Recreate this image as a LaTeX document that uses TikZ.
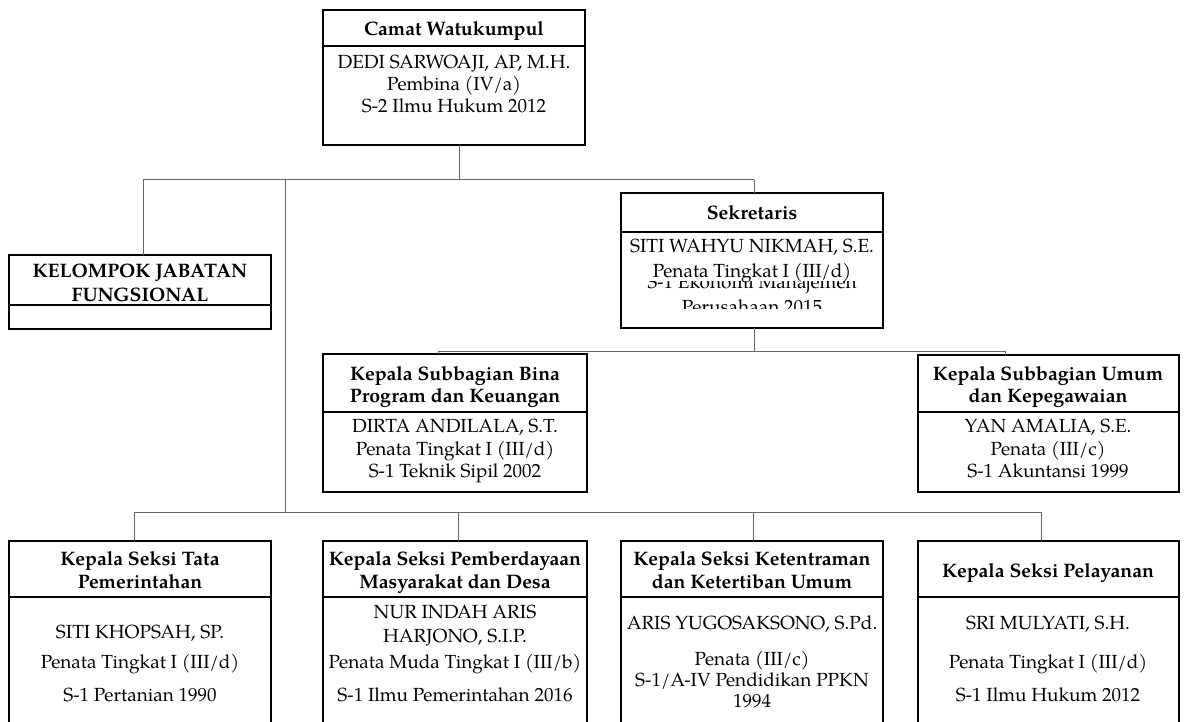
\documentclass[tikz,border=0pt]{standalone}
\usepackage{fontspec}
\setmainfont{TeX Gyre Pagella}
\begin{document}
\begin{tikzpicture}[x=1pt,y=-1pt,
 box/.style={draw, line width=1.6pt, inner sep=0pt, outer sep=0pt, anchor=north west},
 txt/.style={anchor=base, inner sep=0pt, font=\fontsize{19}{22}\selectfont},
 ttl/.style={anchor=base, inner sep=0pt, font=\fontsize{19.5}{22}\selectfont\bfseries},
 conn/.style={draw=black!60, line width=1pt},
 div/.style={line width=1.6pt}]
\clip (0,0) rectangle (1186,722);
\fill[white] (0,0) rectangle (1186,722);

% boxes
\node[box, minimum width=262pt, minimum height=135pt] (camat) at (323,10) {};
\node[box, minimum width=262pt, minimum height=74pt] (kel) at (9,255) {};
\node[box, minimum width=262pt, minimum height=135pt] (sek) at (621,193) {};
\node[box, minimum width=264pt, minimum height=138pt] (bina) at (323,354) {};
\node[box, minimum width=261pt, minimum height=137pt] (umum) at (918,355) {};
\node[box, minimum width=262pt, minimum height=220pt] (s1) at (9,541) {};
\node[box, minimum width=264pt, minimum height=220pt] (s2) at (323,541) {};
\node[box, minimum width=262pt, minimum height=220pt] (s3) at (621,541) {};
\node[box, minimum width=261pt, minimum height=220pt] (s4) at (918,541) {};

% dividers
\draw[div] (camat.west |- 0,46) -- (camat.east |- 0,46);
\draw[div] (kel.west |- 0,305) -- (kel.east |- 0,305);
\draw[div] (sek.west |- 0,232) -- (sek.east |- 0,232);
\draw[div] (bina.west |- 0,412) -- (bina.east |- 0,412);
\draw[div] (umum.west |- 0,412) -- (umum.east |- 0,412);
\foreach \b in {s1,s2,s3,s4} {\draw[div] (\b.west |- 0,597) -- (\b.east |- 0,597);}

% connectors
\coordinate (c1) at (459,180);
\coordinate (tl) at (143,180);
\coordinate (tr) at (754,180);
\coordinate (sv) at (285,180);
\coordinate (ms) at (754,351);
\coordinate (ml) at (438,351);
\coordinate (mr) at (1005,351);
\coordinate (b1) at (134,512);
\coordinate (b2) at (458,512);
\coordinate (b3) at (753,512);
\coordinate (b4) at (1041,512);
\draw[conn] (c1 |- camat.south) -- (c1);
\draw[conn] (tl) -- (tr);
\draw[conn] (tl) -- (tl |- kel.north);
\draw[conn] (tr) -- (tr |- sek.north);
\draw[conn] (sv) -- (sv |- b1);
\draw[conn] (ms |- sek.south) -- (ms);
\draw[conn] (ml) -- (mr);
\draw[conn] (ml) -- (ml |- bina.north);
\draw[conn] (mr) -- (mr |- umum.north);
\draw[conn] (b1) -- (b4);
\draw[conn] (b1) -- (b1 |- s1.north);
\draw[conn] (b2) -- (b2 |- s2.north);
\draw[conn] (b3) -- (b3 |- s3.north);
\draw[conn] (b4) -- (b4 |- s4.north);

% camat
\node[ttl] (camatT) at (454,36) {Camat Watukumpul};
\node[txt] (camatA) at (454,69) {DEDI SARWOAJI, AP, M.H.};
\node[txt] (camatB) at (454,91) {Pembina (IV/a)};
\node[txt] (camatC) at (454,113) {S-2 Ilmu Hukum 2012};

% kelompok
\node[ttl] (kelA) at (140,277) {KELOMPOK JABATAN};
\node[ttl] (kelB) at (140,301) {FUNGSIONAL};

% sekretaris
\node[ttl] (sekT) at (752,219) {Sekretaris};
\node[txt] (sekA) at (752,252) {SITI WAHYU NIKMAH, S.E.};
\begin{scope}
\clip (621,281) rectangle (883,308);
\node[txt] (sekC) at (752,288) {S-1 Ekonomi Manajemen};
\node[txt] (sekD) at (752,313) {Perusahaan 2015};
\end{scope}
\node[txt] (sekB) at (752,277) {Penata Tingkat I (III/d)};

% bina
\node[ttl] (binaT1) at (455,380) {Kepala Subbagian Bina};
\node[ttl] (binaT2) at (455,402) {Program dan Keuangan};
\node[txt] (binaA) at (455,432) {DIRTA ANDILALA, S.T.};
\node[txt] (binaB) at (455,455) {Penata Tingkat I (III/d)};
\node[txt] (binaC) at (455,477) {S-1 Teknik Sipil 2002};

% umum
\node[ttl] (umumT1) at (1048,380) {Kepala Subbagian Umum};
\node[ttl] (umumT2) at (1048,402) {dan Kepegawaian};
\node[txt] (umumA) at (1048,432) {YAN AMALIA, S.E.};
\node[txt] (umumB) at (1048,455) {Penata (III/c)};
\node[txt] (umumC) at (1048,477) {S-1 Akuntansi 1999};

% seksi 1
\node[ttl] (s1T1) at (140,565) {Kepala Seksi Tata};
\node[ttl] (s1T2) at (140,588) {Pemerintahan};
\node[txt] (s1A) at (140,638) {SITI KHOPSAH, SP.};
\node[txt] (s1B) at (140,668) {Penata Tingkat I (III/d)};
\node[txt] (s1C) at (140,701) {S-1 Pertanian 1990};

% seksi 2
\node[ttl] (s2T1) at (455,565) {Kepala Seksi Pemberdayaan};
\node[ttl] (s2T2) at (455,588) {Masyarakat dan Desa};
\node[txt] (s2A) at (455,618) {NUR INDAH ARIS};
\node[txt] (s2B) at (455,642) {HARJONO, S.I.P.};
\node[txt] (s2C) at (455,668) {Penata Muda Tingkat I (III/b)};
\node[txt] (s2D) at (455,701) {S-1 Ilmu Pemerintahan 2016};

% seksi 3
\node[ttl] (s3T1) at (752,565) {Kepala Seksi Ketentraman};
\node[ttl] (s3T2) at (752,588) {dan Ketertiban Umum};
\node[txt] (s3A) at (752,629) {ARIS YUGOSAKSONO, S.Pd.};
\node[txt] (s3B) at (752,665) {Penata (III/c)};
\node[txt] (s3C) at (752,686) {S-1/A-IV Pendidikan PPKN};
\node[txt] (s3D) at (752,707) {1994};

% seksi 4
\node[ttl] (s4T) at (1048,577) {Kepala Seksi Pelayanan};
\node[txt] (s4A) at (1048,629) {SRI MULYATI, S.H.};
\node[txt] (s4B) at (1048,668) {Penata Tingkat I (III/d)};
\node[txt] (s4C) at (1048,701) {S-1 Ilmu Hukum 2012};
\end{tikzpicture}
\end{document}
